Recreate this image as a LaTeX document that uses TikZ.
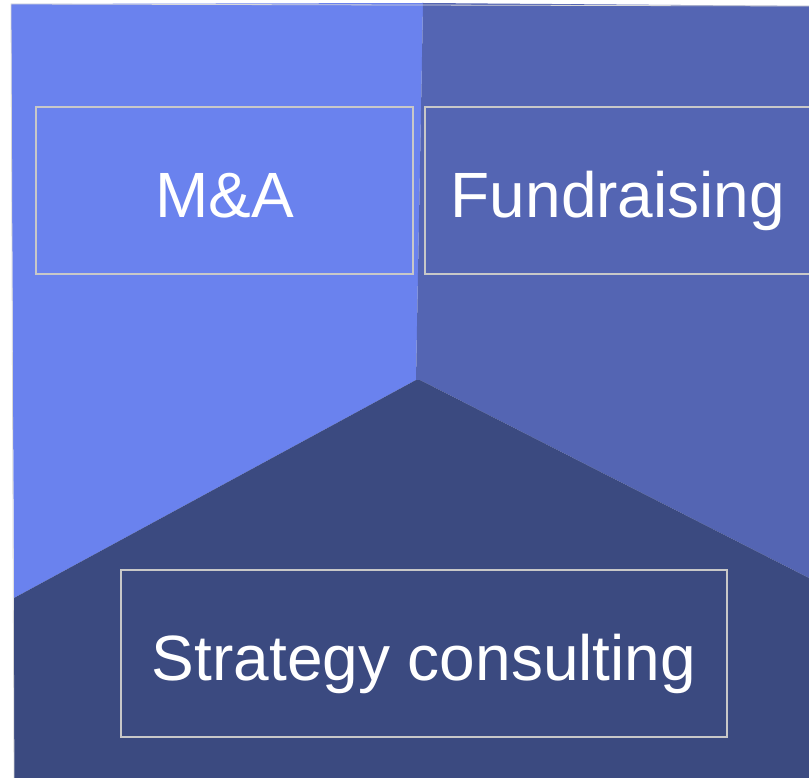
\documentclass[tikz,border=0pt]{standalone}
\usepackage{fontspec}
\setmainfont{Liberation Sans}
\usetikzlibrary{positioning}
\definecolor{paneA}{HTML}{6A82EE}
\definecolor{paneB}{HTML}{5465B3}
\definecolor{paneC}{HTML}{3B4A80}
\definecolor{frameGray}{HTML}{C8C8C8}

\begin{document}
\begin{tikzpicture}[x=1pt, y=-1pt, node distance=10pt,
  svc/.style={draw=frameGray, line width=2pt, rectangle, minimum height=167pt, inner sep=0pt, text height=54pt, text depth=0pt, text=white, font=\fontsize{64}{72}\selectfont}]
\useasboundingbox (0,0) rectangle (809,778);
\fill[paneA] (11,4) -- (423,3) -- (416,380) -- (14,598) -- cycle;
\fill[paneB] (423,3) -- (809,6) -- (809,578) -- (420,380) -- (416,380) -- cycle;
\fill[paneC] (420,380) -- (809,578) -- (809,778) -- (14,778) -- (14,598) -- (416,380) -- cycle;
\draw[frameGray!70, line width=0.8pt] (14,778) -- (11,4) -- (809,6);
\node[svc, minimum width=377pt] (MA) at (224.5,190.5) {M\&A};
\node[svc, minimum width=386pt] (FR) [right=of MA] {Fundraising};
\node[svc, minimum width=606pt] (SC) at (424,653.5) {Strategy consulting};
\end{tikzpicture}
\end{document}
